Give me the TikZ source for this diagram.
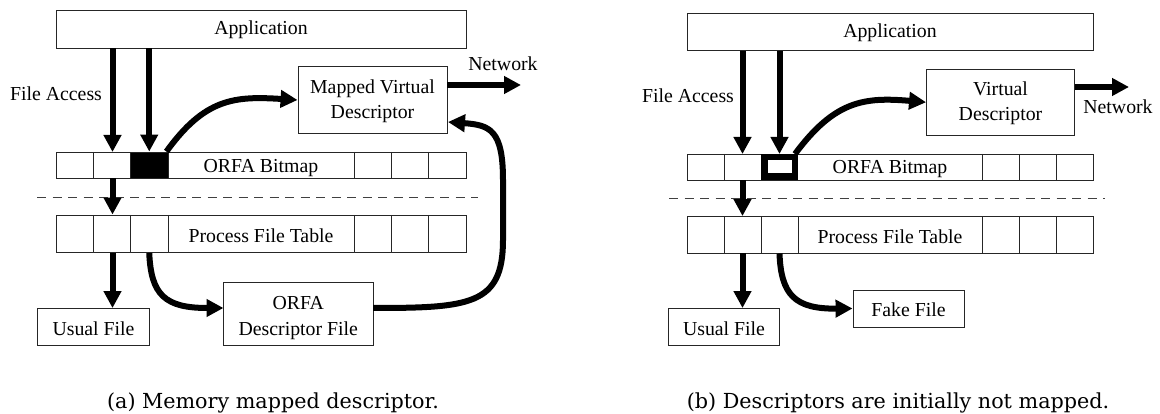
\documentclass[tikz,border=0pt]{standalone}
\usepackage{fontspec}
\setmainfont{Liberation Serif}
\newfontfamily\capfont{DejaVu Serif}
\usetikzlibrary{arrows.meta}
\tikzset{
  x=1pt,y=-1pt,
  box/.style={draw=black!85,line width=0.9pt,fill=white,inner sep=0pt,align=center,font=\fontsize{19.8}{24.5}\selectfont},
  th/.style={text height=#1,text depth=0pt},
  cell/.style={draw=black!85,line width=0.9pt,fill=white},
  lbl/.style={inner sep=0pt,anchor=base,font=\fontsize{19.8}{24}\selectfont},
  captext/.style={inner sep=0pt,anchor=base,font=\capfont\fontsize{20.7}{24}\selectfont},
  flow/.style={line width=6pt,-{Triangle[length=17pt,width=17pt]}},
  sep/.style={draw=black!75,line width=0.9pt,dash pattern=on 9pt off 6.5pt},
}
\newcommand{\boxat}[7][]{\node[box,#1,minimum width={(#5)-(#3)},minimum height={(#6)-(#4)}] (#2) at ({((#3)+(#5))/2},{((#4)+(#6))/2}) {#7};}
\begin{document}
\begin{tikzpicture}
\useasboundingbox (0,0) rectangle (1160,414);
% ---- left
\boxat[th=11pt]{appA}{56}{10.5}{466}{48}{Application}
\boxat[th=14.5pt]{bmA}{56}{152}{466}{178}{ORFA Bitmap}
\boxat[th=17.5pt]{ptA}{56}{215}{466}{252.5}{Process File Table}
\boxat{mvA}{298}{66.5}{447}{133.5}{\rule{0pt}{16.2pt}Mapped Virtual\\Descriptor}
\boxat[th=16.5pt]{ufA}{37.5}{308.5}{149.5}{345.5}{Usual File}
\boxat{odA}{223.5}{282.5}{373}{345.5}{\rule{0pt}{21pt}ORFA\\[1.5pt]Descriptor File}
\foreach \a in {93.5,354,391,428.5}{\draw[cell] (\a,152) -- (\a,178);}
\foreach \a in {93.5,130.5,168,354,391,428.5}{\draw[cell] (\a,215) -- (\a,252.5);}
\node[cell,fill=black,minimum width=37.5pt,minimum height=26pt,inner sep=0pt] (blkA) at (149.25,165) {};
\draw[sep] (37,197) -- (478,197);
\coordinate (tapA) at (112.5,152);
\draw[flow] (appA.south -| tapA) -- (tapA);
\draw[flow] (appA.south -| blkA) -- (blkA.north);
\draw[flow] (bmA.south -| tapA) -- (ptA.north -| tapA);
\draw[flow] (ptA.south -| tapA) -- (ufA.north -| tapA);
\draw[flow] (blkA.north east) ++(-2,0) .. controls (205,98) and (235,96) .. (mvA.west);
\coordinate (nwA) at (521,85);
\draw[flow] (mvA.east |- nwA) -- (nwA);
\coordinate (odAin) at (223.5,308);
\draw[flow] (ptA.south -| blkA) .. controls (151,295) and (165,308) .. (odAin);
\coordinate (odAout) at (373,308);
\coordinate (mvAin) at (448,122);
\draw[flow] (odAout) .. controls (470,308) and (503,305) .. (503,240) -- (503,180) .. controls (503,130) and (490,125) .. (mvAin);
\node[lbl] (fa) at (56,100.5) {File Access};
\node[lbl] (nw) at (503,71) {Network};
\node[captext] (ca) at (273,408.5) {(a) Memory mapped descriptor.};
% ---- right
\boxat[th=10.5pt]{appB}{687}{13.5}{1093}{50.5}{Application}
\boxat[th=12.5pt]{bmB}{687}{154}{1093}{180}{ORFA Bitmap}
\boxat[th=17.5pt]{ptB}{687}{216.5}{1093}{253}{Process File Table}
\boxat{mvB}{926.5}{69}{1074.5}{135.5}{\rule{0pt}{15.5pt}Virtual\\Descriptor}
\boxat[th=16.5pt]{ufB}{668.5}{308.5}{779.5}{345.5}{Usual File}
\boxat[th=16.5pt]{ffB}{853}{290}{964}{327}{Fake File}
\foreach \a in {724,982,1019,1056}{\draw[cell] (\a,154) -- (\a,180);}
\foreach \a in {724,761,798,982,1019,1056}{\draw[cell] (\a,216.5) -- (\a,253);}
\node[draw=black,line width=6.5pt,fill=white,minimum width=30.5pt,minimum height=19.5pt,inner sep=0pt] (blkB) at (779.5,167) {};
\draw[sep] (669,198) -- (1105,198);
\coordinate (tapB) at (742.5,154);
\draw[flow] (appB.south -| tapB) -- (tapB);
\draw[flow] (appB.south -| blkB) -- (779.5,154);
\draw[flow] (bmB.south -| tapB) -- (ptB.north -| tapB);
\draw[flow] (ptB.south -| tapB) -- (ufB.north -| tapB);
\coordinate (blkBout) at (795,154);
\draw[flow] (blkBout) .. controls (835,100) and (865,97) .. (mvB.west);
\coordinate (nwB) at (1129,87);
\draw[flow] (mvB.east |- nwB) -- (nwB);
\draw[flow] (ptB.south -| blkB) .. controls (781,295) and (795,309) .. (ffB.west);
\node[lbl] (fb) at (688,102.5) {File Access};
\node[lbl] (nb) at (1118,114) {Network};
\node[captext] (cb) at (898,408.5) {(b) Descriptors are initially not mapped.};
\end{tikzpicture}
\end{document}
